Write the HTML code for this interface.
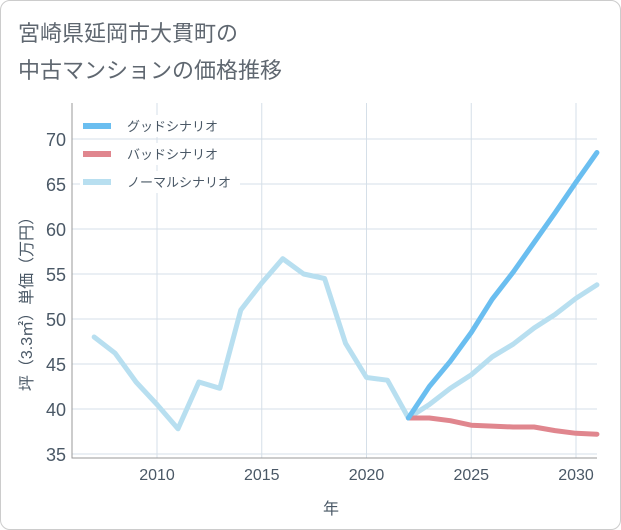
<!DOCTYPE html>
<html><head><meta charset="utf-8"><style>
body{margin:0;background:#fff;font-family:"Liberation Sans","Noto Sans CJK JP",sans-serif;}
#card{position:absolute;left:0;top:0;width:619px;height:528px;border:1px solid #ccc;border-radius:10px;background:#fff;}
</style></head><body>
<div id="card"></div>
<svg id="chart" width="621" height="530" style="position:absolute;left:0;top:0" font-family="Liberation Sans, Noto Sans CJK JP, sans-serif">
<text x="18" y="41" font-size="22" fill="#5f6770">宮崎県延岡市大貫町の</text>
<text x="18" y="78" font-size="22" fill="#5f6770">中古マンションの価格推移</text>
<g id="grid"></g><g id="series"></g><g id="axes"></g>
<text x="331" y="514" font-size="16" fill="#4a5866" text-anchor="middle">年</text>
<text transform="translate(32,300) rotate(-90)" font-size="16" fill="#4a5866" text-anchor="middle">坪（3.3㎡）単価（万円）</text>
<g id="legend"></g>
</svg>
<script>
const years=[2007,2008,2009,2010,2011,2012,2013,2014,2015,2016,2017,2018,2019,2020,2021,2022,2023,2024,2025,2026,2027,2028,2029,2030,2031];
const normal=[48,46.2,43,40.5,37.8,43,42.3,51,54,56.7,55,54.5,47.3,43.5,43.2,39,40.5,42.3,43.8,45.8,47.2,49,50.5,52.3,53.8];
const goodYears=[2022,2023,2024,2025,2026,2027,2028,2029,2030,2031];
const good=[39,42.5,45.3,48.5,52.2,55.2,58.5,61.8,65.2,68.5];
const bad=[39,39,38.7,38.2,38.1,38,38,37.6,37.3,37.2];
const yTicks=[35,40,45,50,55,60,65,70];
const xTicks=[2010,2015,2020,2025,2030];
const legendLabels=["グッドシナリオ","バッドシナリオ","ノーマルシナリオ"];
const NS="http://www.w3.org/2000/svg";
const L=72,R=597,T=103,B=458;
const xs=y=>157+(y-2010)*20.95;
const ys=v=>454-(v-35)*9;
function mk(tag,attrs,parent){const e=document.createElementNS(NS,tag);for(const k in attrs)e.setAttribute(k,attrs[k]);document.getElementById(parent).appendChild(e);return e;}
yTicks.forEach(v=>{const l=mk('line',{x1:L,x2:R,y1:ys(v),y2:ys(v),stroke:'#d5dfe8','stroke-width':1},'grid');

const t=mk('text',{x:L-6,y:ys(v)+7,'font-size':18,fill:'#4a5866','text-anchor':'end'},'axes');t.textContent=v;
});
xTicks.forEach(v=>{const l=mk('line',{x1:xs(v),x2:xs(v),y1:T,y2:B,stroke:'#d5dfe8','stroke-width':1},'grid');

const t=mk('text',{x:xs(v),y:B+22,'font-size':16,fill:'#4a5866','text-anchor':'middle'},'axes');t.textContent=v;
});
const ax=mk('path',{d:`M${L},${T}V${B}H${R}`,fill:'none',stroke:'#999','stroke-width':1},'axes');

function line(xv,yv,color,name){const d=xv.map((x,i)=>(i?'L':'M')+xs(x)+','+ys(yv[i])).join('');
const p=mk('path',{d:d,fill:'none',stroke:color,'stroke-width':5,'stroke-linejoin':'round','stroke-linecap':'round'},'series');
}
line(years,normal,'#b8dff0','normal-scenario-line');
line(goodYears,bad,'#e0868e','bad-scenario-line');
line(goodYears,good,'#6abef0','good-scenario-line');
const lc=['#6abef0','#e0868e','#b8dff0'];
legendLabels.forEach((s,i)=>{const y=126+i*28;
const bg=mk('rect',{x:80,y:y-11,width:160,height:22,fill:'#fff'},'legend');

const r=mk('rect',{x:83,y:y-3,width:28,height:6,fill:lc[i]},'legend');

const t=mk('text',{x:127,y:y+5,'font-size':13,fill:'#4a5866'},'legend');t.textContent=s;
});
</script>
</body></html>
